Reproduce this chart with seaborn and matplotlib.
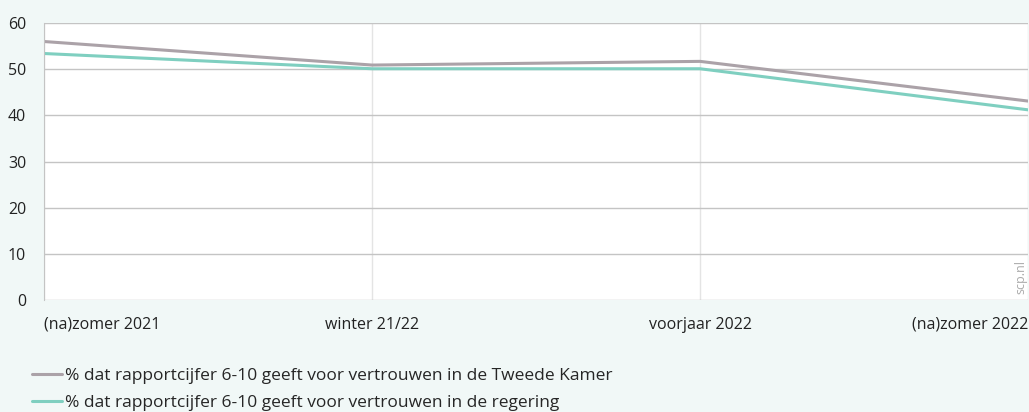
import matplotlib
matplotlib.use("Agg")
import matplotlib.pyplot as plt
import seaborn as sns
import pandas as pd

periods = ["(na)zomer 2021", "winter 21/22", "voorjaar 2022", "(na)zomer 2022"]
tweede_kamer = [56.0, 50.9, 51.7, 43.1]
regering = [53.4, 50.1, 50.1, 41.2]
labels = ["% dat rapportcijfer 6-10 geeft voor vertrouwen in de Tweede Kamer",
          "% dat rapportcijfer 6-10 geeft voor vertrouwen in de regering"]
colors = ["#aba2a8", "#7fcfc0"]

df = pd.DataFrame({
    "periode": periods * 2,
    "pos": list(range(len(periods))) * 2,
    "waarde": tweede_kamer + regering,
    "reeks": [labels[0]] * 4 + [labels[1]] * 4,
})

sns.set_style("white")
plt.rcParams["font.family"] = ["Open Sans", "DejaVu Sans"]

bg = "#f1f8f7"
fig = plt.figure(figsize=(10.29, 4.12), dpi=100, facecolor=bg)
ax = fig.add_axes([0.043, 0.272, 0.956, 0.672])
ax.set_facecolor("white")

sns.lineplot(data=df, x="pos", y="waarde", hue="reeks", palette=colors,
             linewidth=2.2, ax=ax, legend=False)

ax.set_xlim(0, 3)
ax.set_ylim(0, 60)
ax.set_yticks(range(0, 61, 10))
ax.set_xticks(range(4))
ax.set_xticklabels(periods)
tl = ax.get_xticklabels()
tl[0].set_ha("left")
tl[-1].set_ha("right")
ax.tick_params(axis="both", length=0, labelsize=11.5, colors="#222222")
ax.tick_params(axis="x", pad=12)
ax.tick_params(axis="y", pad=13)
ax.set_xlabel("")
ax.set_ylabel("")

ax.grid(axis="y", color="#c4c4c4", linewidth=1)
ax.grid(axis="x", color="#e4e4e4", linewidth=1)
ax.set_axisbelow(True)
for s in ["top", "right", "bottom"]:
    ax.spines[s].set_visible(False)
ax.spines["left"].set_color("#c4c4c4")

ax.text(0.9925, 0.02, "scp.nl", transform=ax.transAxes, rotation=90,
        ha="center", va="bottom", fontsize=9, color="#aaaaaa")

handles = [plt.Line2D([], [], color=c, linewidth=2.2) for c in colors]
fig.legend(handles, labels, loc="upper left", bbox_to_anchor=(0.031, 0.107),
           frameon=False, fontsize=12.5, handlelength=1.75, handletextpad=0.15,
           labelspacing=0.62, borderaxespad=0, borderpad=0)

fig.savefig("out.png", dpi=100, facecolor=bg)
